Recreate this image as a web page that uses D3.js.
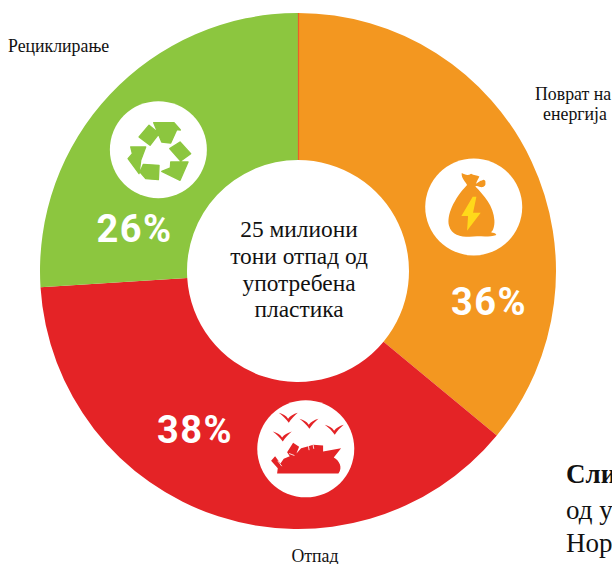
<!DOCTYPE html>
<html>
<head>
<meta charset="utf-8">
<script src="https://cdn.jsdelivr.net/npm/d3@7/dist/d3.min.js"></script>
<style>
html,body{margin:0;padding:0;background:#fff;overflow:hidden}
svg{display:block}
text{font-family:"Liberation Serif",serif;fill:#111}
</style>
</head>
<body>
<svg id="chart" width="612" height="564"></svg>
<script>
// Shares of used plastic waste by destination
const categories = ["Поврат на енергија", "Отпад", "Рециклирање"];
const shares = [36, 38, 26];
const sliceColors = ["#f39720", "#e42326", "#8cc63f"];
const centerLines = ["25 милиони", "тони отпад од", "употребена", "пластика"];

const cx = 298, cy = 271, outerR = 258, innerR = 111, iconR = 48.5;
const svg = d3.select("#chart");

const pie = d3.pie().sort(null).value(d => d)(shares);
const arc = d3.arc().innerRadius(innerR).outerRadius(outerR);
const ring = svg.append("g").attr("transform", `translate(${cx},${cy})`);

ring.selectAll("path").data(pie).join("path")
  .attr("d", arc)
  .attr("fill", (d, i) => sliceColors[i]);

// thin red seam where the orange slice begins
ring.append("line")
  .attr("x1", 0.5).attr("x2", 0.5)
  .attr("y1", -outerR).attr("y2", -innerR)
  .attr("stroke", "#e8602a").attr("stroke-width", 1.2);

// Icon badge placement: polar offset from the ring centre
const iconPolar = [[70, 187], [177.5, 178], [311, 185]];
const polar = ([deg, r]) => {
  const a = deg * Math.PI / 180;
  return [cx + r * Math.sin(a), cy - r * Math.cos(a)];
};
const badge = i => {
  const [x, y] = polar(iconPolar[i]);
  const g = svg.append("g").attr("transform", `translate(${x},${y})`);
  g.append("circle").attr("r", iconR).attr("fill", "#fff");
  return g.append("g").attr("transform", "scale(0.3333)");
};

// Money-sack glyph with a lightning bolt
const bag = badge(0);
bag.append("path").attr("fill", sliceColors[0])
  .attr("d", "M-36,-102 C-26,-96 -16,-94 -8,-100 C0,-94 10,-96 17,-92 C13,-84 9,-78 7,-70 C13,-74 19,-80 25,-80 C29,-84 37,-80 35,-72 C37,-62 27,-58 19,-60 C11,-62 9,-64 5,-62 C30,-36 60,-4 62,40 C63,58 58,72 52,76 C58,78 66,78 68,84 C50,90 30,88 10,88 C-22,92 -66,90 -74,56 C-82,26 -60,-24 -20,-66 C-24,-76 -38,-86 -36,-102Z");
bag.append("path").attr("fill", "#ffd91a")
  .attr("d", "M-3,-31 L-37,27 L-17,27 L-20,71 L21,17 L-2,17 L8,-31Z");

// Ship run aground with a flock of gulls
const ship = badge(1);
ship.append("path").attr("fill", sliceColors[1])
  .attr("d", "M-86,74 L-84,58 L-104,36 L-92,22 L-76,44 L-66,30 L-48,22 L-56,10 L-38,-18 L-20,-6 L-28,14 L-14,-2 L8,-8 L22,-12 L52,-10 L52,8 L106,-2 L84,26 C100,34 112,56 98,74 Z");
ship.append("path").attr("fill", "none").attr("stroke", "#fff").attr("stroke-width", 2.5)
  .attr("d", "M-84,36 L-72,52 M-50,14 L-34,20 M8,-8 L10,4 M22,-12 L24,0");
const birdGull = "M-28,-12 C-16,-8 -6,-4 0,6 C6,-2 16,-8 29,-12 C19,-4 9,7 2,18 C-6,6 -16,-3 -28,-12Z";
[[-53, -96], [9, -78], [85, -60], [-71, -40]].forEach(([x, y]) => {
  ship.append("path").attr("fill", sliceColors[1]).attr("d", birdGull)
    .attr("transform", `translate(${x},${y})`);
});

// Recycling glyph built from six blocks
const recycle = badge(2);
recycle.append("path").attr("fill", sliceColors[2])
  .attr("stroke", sliceColors[2]).attr("stroke-width", 4).attr("stroke-linejoin", "round")
  .attr("d", [
    "M-14,-81 L47,-81 L66,-59 L55,-60 L37,-20 L10,-23 Z",
    "M-28,-73 L2,-48 L-25,-13 L-58,-38 Z",
    "M65,-23 L97,12 L67,34 L34,-3 Z",
    "M37,37 L89,37 L65,92 L10,65 L36,55 Z",
    "M-45,44 L2,47 L0,90 L-38,87 L-55,67 Z",
    "M-83,-8 L-38,-8 L-53,32 L-58,72 L-91,27 L-78,12 Z"
  ].join(" "));

// Percentages on the slices
const percentPos = [[489, 315], [195, 443], [134.5, 242]];
svg.selectAll("text.pct").data(shares).join("text")
  .attr("class", "pct")
  .attr("x", (d, i) => percentPos[i][0])
  .attr("y", (d, i) => percentPos[i][1])
  .attr("text-anchor", "middle")
  .style("font-family", "Roboto, sans-serif")
  .style("font-weight", 700)
  .style("font-size", "38px")
  .style("letter-spacing", "1.5px")
  .style("fill", "#fff")
  .text(d => d + "%");

// Caption in the hole
const centerBase = [237, 264, 291, 317];
svg.selectAll("text.center").data(centerLines).join("text")
  .attr("class", "center")
  .attr("x", 299).attr("y", (d, i) => centerBase[i])
  .attr("text-anchor", "middle")
  .style("font-size", "23.4px")
  .text(d => d);

// Outer category labels
const label = (t, x, y, anchor) => svg.append("text")
  .attr("x", x).attr("y", y).attr("text-anchor", anchor)
  .style("font-size", "17.8px").text(t);
label("Рециклирање", 8, 52, "start");
label("Поврат на", 535, 100, "start");
label("енергија", 575, 120, "middle");
label("Отпад", 315, 562, "middle");

// Running text beside the figure, cut by the page edge
const side = [["Сли", 483, 700], ["од у", 519, 400], ["Нор", 552, 400]];
side.forEach(([t, y, w]) => svg.append("text")
  .attr("x", 566).attr("y", y)
  .style("font-size", "27px").style("font-weight", w).text(t));
</script>
</body>
</html>
